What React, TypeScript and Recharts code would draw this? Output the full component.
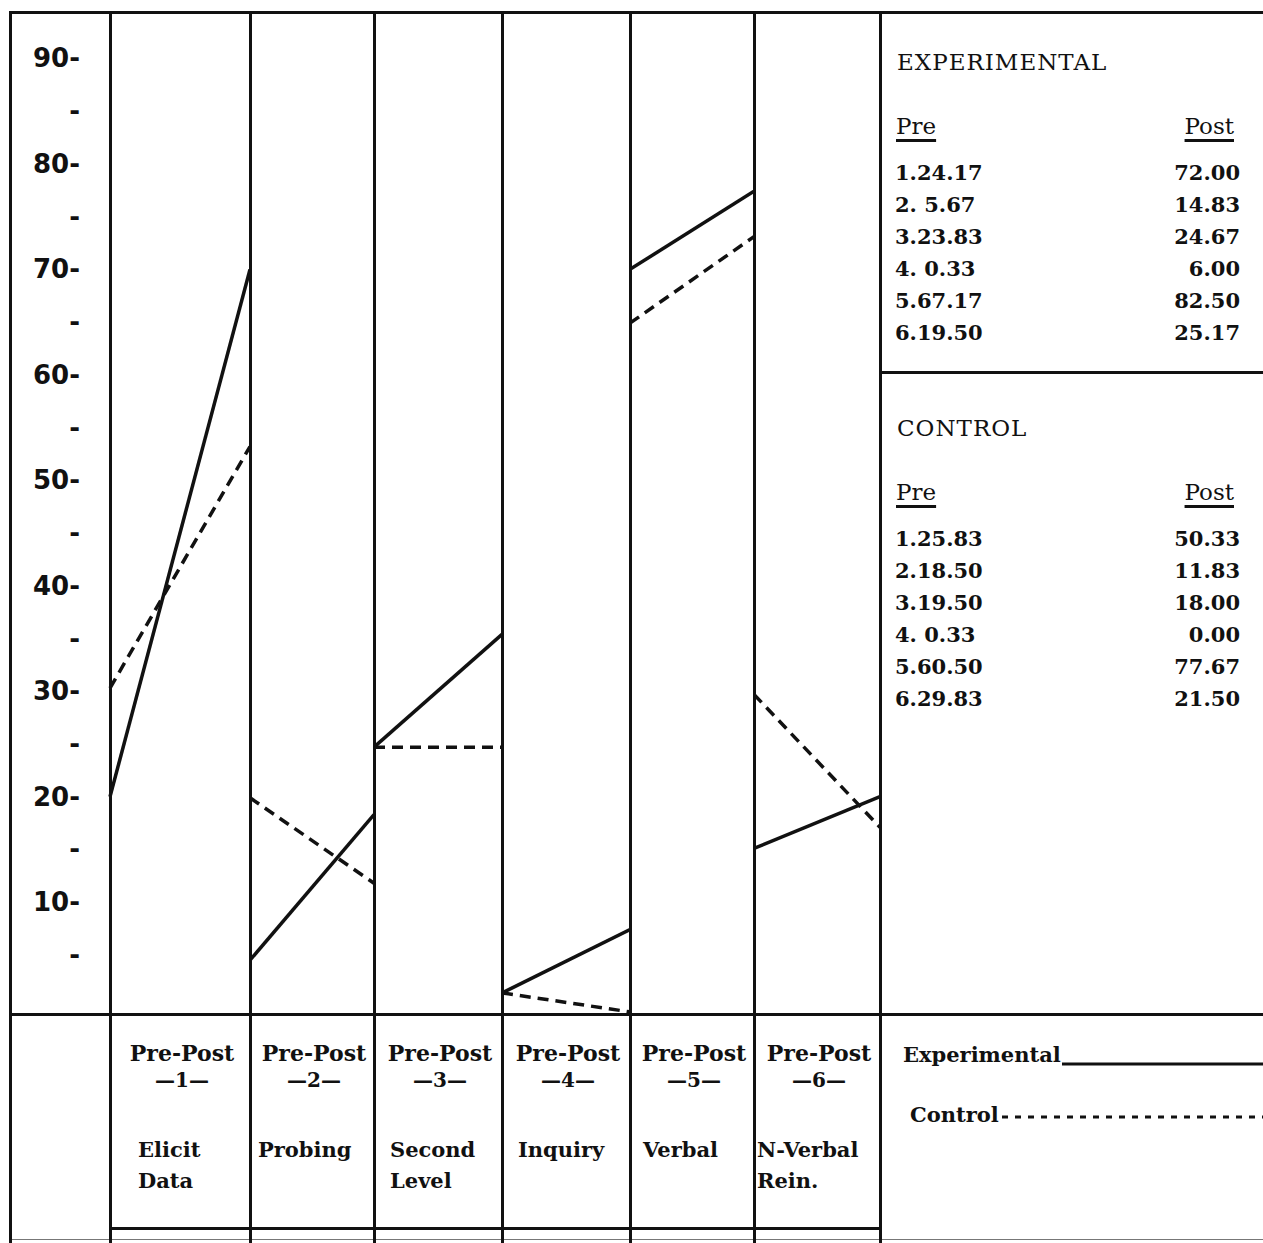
import { LineChart, Line, XAxis, YAxis } from 'recharts'

// values (pre = left edge of a panel, post = right edge)
const experimentalPre = [20.0, 4.5, 24.7, 1.4, 70.0, 15.1]
const experimentalPost = [70.0, 18.3, 35.4, 7.4, 77.4, 20.0]
const controlPre = [30.3, 19.9, 24.7, 1.4, 64.9, 29.7]
const controlPost = [53.2, 11.8, 24.7, -0.4, 73.1, 17.1]

const skillNumbers = ['1', '2', '3', '4', '5', '6']
const skillNames = [['Elicit', 'Data'], ['Probing'], ['Second', 'Level'], ['Inquiry'], ['Verbal'], ['N-Verbal', 'Rein.']]

const yTicks = [5, 10, 15, 20, 25, 30, 35, 40, 45, 50, 55, 60, 65, 70, 75, 80, 85, 90]

// table printed on the right
const expTablePre = ['24.17', ' 5.67', '23.83', ' 0.33', '67.17', '19.50']
const expTablePost = ['72.00', '14.83', '24.67', '6.00', '82.50', '25.17']
const ctlTablePre = ['25.83', '18.50', '19.50', ' 0.33', '60.50', '29.83']
const ctlTablePost = ['50.33', '11.83', '18.00', '0.00', '77.67', '21.50']

// layout
const colEdges = [110, 250, 374, 502, 630, 754, 880]
const TOP = 12
const PLOT_BOTTOM = 1014
const LABEL_BOTTOM = 1228
const W = 1263
const H = 1243
const INK = '#111'

const serif = '"DejaVu Serif", serif'

function AxisTick({ y, payload }: any) {
  const v = payload.value
  return (
    <text x={70} y={y} dy={9} textAnchor="end" fontFamily='"DejaVu Sans", sans-serif' fontWeight="bold" fontSize={26} fill={INK}>
      {v % 10 === 0 ? `${v}-` : '-'}
    </text>
  )
}

function Panel({ i }: { i: number }) {
  const data = [
    { phase: 'Pre', exp: experimentalPre[i], ctl: controlPre[i] },
    { phase: 'Post', exp: experimentalPost[i], ctl: controlPost[i] },
  ]
  const first = i === 0
  const left = first ? 10 : colEdges[i]
  const width = colEdges[i + 1] - left
  return (
    <div style={{ position: 'absolute', left, top: TOP }}>
      <LineChart width={width} height={PLOT_BOTTOM - TOP} data={data} margin={{ top: 0, right: 0, bottom: 0, left: 0 }}>
        <XAxis dataKey="phase" hide padding={{ left: 0, right: 0 }} />
        <YAxis
          hide={!first}
          width={100}
          domain={[-0.6, 94.4]}
          ticks={yTicks}
          axisLine={false}
          tickLine={false}
          tick={<AxisTick />}
          interval={0}
        />
        <Line type="linear" dataKey="exp" stroke={INK} strokeWidth={3.5} dot={false} isAnimationActive={false} />
        <Line type="linear" dataKey="ctl" stroke={INK} strokeWidth={3.5} strokeDasharray="11 7" dot={false} isAnimationActive={false} />
      </LineChart>
    </div>
  )
}

const hLine = (x1: number, x2: number, y: number, t = 3, color = INK) => (
  <div style={{ position: 'absolute', left: x1, top: y - t / 2, width: x2 - x1, height: t, background: color }} />
)
const vLine = (x: number, y1: number, y2: number, t = 3) => (
  <div style={{ position: 'absolute', left: x - t / 2, top: y1, width: t, height: y2 - y1, background: INK }} />
)

function Txt({ x, y, children, align = 'left', size = 21, weight = 'bold', w = 200, spacing = 0 }: any) {
  const style: any = {
    position: 'absolute',
    top: y - 16,
    lineHeight: '32px',
    height: 32,
    fontFamily: serif,
    fontSize: size,
    fontWeight: weight,
    letterSpacing: spacing,
    color: INK,
    whiteSpace: 'pre',
  }
  if (align === 'right') {
    style.left = x - w
    style.width = w
    style.textAlign = 'right'
  } else if (align === 'center') {
    style.left = x - w / 2
    style.width = w
    style.textAlign = 'center'
  } else {
    style.left = x
  }
  return <div style={style}>{children}</div>
}

function GroupTable({ title, titleY, pre, post }: any) {
  const headY = titleY + 64
  const ul = { textDecoration: 'underline', textDecorationThickness: 3, textUnderlineOffset: 5 }
  return (
    <>
      <Txt x={897} y={titleY} weight="normal" size={23} spacing={1}>{title}</Txt>
      <Txt x={896} y={headY} weight="normal" size={23}>
        <span style={ul}>Pre</span>
      </Txt>
      <Txt x={1234} y={headY} weight="normal" size={23} align="right">
        <span style={ul}>Post</span>
      </Txt>
      {pre.map((v: string, k: number) => (
        <Txt key={'p' + k} x={895} y={headY + 47 + k * 32}>{`${k + 1}.${v}`}</Txt>
      ))}
      {post.map((v: string, k: number) => (
        <Txt key={'q' + k} x={1240} y={headY + 47 + k * 32} align="right">{v}</Txt>
      ))}
    </>
  )
}

const nameOffsets = [28, 8, 16, 16, 13, 3]

export default function App() {
  return (
    <div style={{ position: 'absolute', left: 0, top: 0, width: W, height: H, background: '#fff', overflow: 'hidden' }}>
      {skillNumbers.map((_, i) => <Panel key={i} i={i} />)}

      {/* frame */}
      {hLine(9, W, TOP)}
      {hLine(9, W, PLOT_BOTTOM)}
      {hLine(colEdges[0], colEdges[6], LABEL_BOTTOM)}
      {hLine(9, W, 1239, 1, '#777')}
      {hLine(colEdges[6], W, 372)}
      {vLine(10, TOP, H)}
      {colEdges.map((x, i) => <div key={i}>{vLine(x, TOP, H)}</div>)}

      {/* panel labels */}
      {skillNumbers.map((n, i) => {
        const cx = (colEdges[i] + colEdges[i + 1]) / 2 + 2
        return (
          <div key={i}>
            <Txt x={cx} y={1053} align="center" size={22} w={130}>Pre-Post</Txt>
            <Txt x={cx} y={1080} align="center" size={20} w={130}>{`—${n}—`}</Txt>
            {skillNames[i].map((s, k) => (
              <Txt key={k} x={colEdges[i] + nameOffsets[i]} y={1150 + k * 31} size={21}>{s}</Txt>
            ))}
          </div>
        )
      })}

      {/* right side tables */}
      <GroupTable title="EXPERIMENTAL" titleY={62} pre={expTablePre} post={expTablePost} />
      <GroupTable title="CONTROL" titleY={428} pre={ctlTablePre} post={ctlTablePost} />

      {/* legend */}
      <Txt x={903} y={1055} size={21}>Experimental</Txt>
      <svg style={{ position: 'absolute', left: 0, top: 0 }} width={W} height={H} pointerEvents="none">
        <line x1={1062} x2={W} y1={1064} y2={1064} stroke={INK} strokeWidth={3} />
        <line x1={1002} x2={W} y1={1117} y2={1117} stroke={INK} strokeWidth={3} strokeDasharray="6 7" />
      </svg>
      <Txt x={910} y={1115} size={21}>Control</Txt>
    </div>
  )
}
